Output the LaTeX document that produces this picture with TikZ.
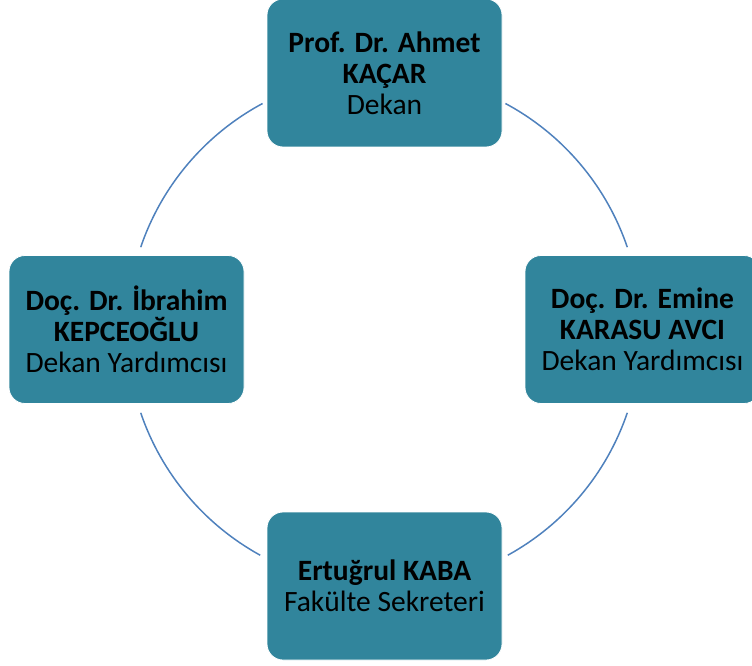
\documentclass[tikz,border=0pt]{standalone}
\usepackage{fontspec}
\setmainfont{Carlito}
\definecolor{boxfill}{HTML}{31859C}
\definecolor{arcline}{HTML}{4F81BD}
\begin{document}
\begin{tikzpicture}[x=1pt,y=1pt,
  member/.style={draw=white, line width=0.8pt, fill=boxfill, rounded corners=16pt,
    minimum width=235pt, minimum height=148pt, inner sep=0pt, align=center,
    font=\fontsize{29.5}{31}\selectfont, text=black},
  ring/.style={draw=arcline, line width=1.5pt}]
\useasboundingbox (0,0) rectangle (752,665);
\coordinate (c) at (384,335);
\def\R{257}
\draw[ring] ([shift={(61.8:\R)}]c) arc[start angle=61.8, end angle=18.8, radius=\R];
\draw[ring] ([shift={(118.2:\R)}]c) arc[start angle=118.2, end angle=161.2, radius=\R];
\draw[ring] ([shift={(198.8:\R)}]c) arc[start angle=198.8, end angle=241.2, radius=\R];
\draw[ring] ([shift={(298.8:\R)}]c) arc[start angle=298.8, end angle=341.2, radius=\R];
\node[member] (top) at (384.5,592) {\textbf{Prof. Dr. Ahmet}\\\textbf{KAÇAR}\\Dekan};
\node[member] (left) at (126.5,335.5) {\textbf{Doç. Dr. İbrahim}\\\textbf{KEPCEOĞLU}\\Dekan Yardımcısı};
\node[member] (right) at (642.5,335.5) {\textbf{Doç. Dr. Emine}\\\textbf{KARASU AVCI}\\Dekan Yardımcısı};
\node[member] (bottom) at (384.5,79) {\textbf{Ertuğrul KABA}\\Fakülte Sekreteri};
\end{tikzpicture}
\end{document}
